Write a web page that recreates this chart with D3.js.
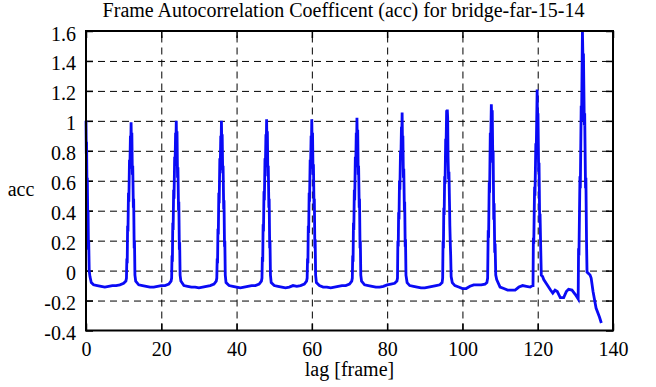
<!DOCTYPE html>
<html>
<head>
<meta charset="utf-8">
<script src="https://cdn.jsdelivr.net/npm/d3@7"></script>
<style>
  body { margin: 0; background: #fff; }
</style>
</head>
<body>
<script>
// axis ticks
const xTicks = [0, 20, 40, 60, 80, 100, 120, 140];
const yTicks = [-0.4, -0.2, 0, 0.2, 0.4, 0.6, 0.8, 1, 1.2, 1.4, 1.6];

const title = "Frame Autocorrelation Coefficent (acc) for bridge-far-15-14";
const xLabel = "lag [frame]";
const yLabel = "acc";

// [lag, acc], one peak / one trough per line
const acc = [
  [0,1.00],[0.08,0.78],[0.15,0.86],[0.27,0.55],[0.35,0.62],[0.47,0.34],[0.55,0.40],[0.65,0.14],[0.72,0.20],[0.85,0.00],[1.05,-0.04],[1.4,-0.08],
  [2,-0.095],[3,-0.10],[4,-0.105],[5,-0.11],[6,-0.105],[7,-0.10],[8,-0.10],[9,-0.095],[10,-0.085],[10.6,-0.07],
  [10.75,-0.05],[10.85,0.08],[10.95,0.05],[11.05,0.30],[11.15,0.26],[11.28,0.52],[11.38,0.46],[11.55,0.74],[11.65,0.68],[11.8,0.90],[11.9,0.84],[11.98,0.99],[12.08,0.82],[12.18,0.92],[12.32,0.64],[12.42,0.70],[12.58,0.42],[12.66,0.48],[12.8,0.15],[12.88,0.20],[13.0,-0.03],[13.2,-0.07],
  [14,-0.095],[15,-0.10],[16,-0.105],[17,-0.11],[18,-0.11],[19,-0.105],[20,-0.10],[21,-0.10],[22,-0.09],[22.6,-0.07],
  [22.75,-0.05],[22.85,0.10],[22.95,0.06],[23.05,0.32],[23.15,0.27],[23.28,0.54],[23.38,0.48],[23.55,0.76],[23.65,0.70],[23.8,0.92],[23.9,0.85],[23.98,1.00],[24.08,0.80],[24.18,0.93],[24.32,0.62],[24.42,0.69],[24.58,0.40],[24.66,0.46],[24.8,0.14],[24.88,0.19],[25.0,-0.03],[25.2,-0.07],
  [26,-0.10],[27,-0.105],[28,-0.11],[29,-0.11],[30,-0.115],[31,-0.11],[32,-0.105],[33,-0.10],[34,-0.09],[34.6,-0.07],
  [34.75,-0.05],[34.85,0.08],[34.95,0.05],[35.05,0.28],[35.15,0.24],[35.28,0.52],[35.38,0.45],[35.55,0.75],[35.65,0.67],[35.8,0.90],[35.9,0.83],[35.98,1.00],[36.08,0.83],[36.18,0.91],[36.32,0.65],[36.42,0.70],[36.58,0.41],[36.66,0.47],[36.8,0.16],[36.88,0.20],[37.0,-0.03],[37.2,-0.08],
  [38,-0.10],[39,-0.105],[40,-0.11],[41,-0.115],[42,-0.11],[43,-0.105],[44,-0.10],[45,-0.10],[46,-0.09],[46.6,-0.07],
  [46.75,-0.05],[46.85,0.09],[46.95,0.06],[47.05,0.31],[47.15,0.26],[47.28,0.53],[47.38,0.47],[47.55,0.75],[47.65,0.69],[47.8,0.91],[47.9,0.85],[47.98,1.01],[48.08,0.82],[48.18,0.93],[48.32,0.63],[48.42,0.70],[48.58,0.42],[48.66,0.48],[48.8,0.15],[48.88,0.20],[49.0,-0.03],[49.2,-0.08],
  [50,-0.10],[51,-0.105],[52,-0.11],[53,-0.115],[54,-0.11],[55,-0.10],[56,-0.105],[57,-0.10],[58,-0.09],[58.6,-0.07],
  [58.75,-0.05],[58.85,0.08],[58.95,0.05],[59.05,0.30],[59.15,0.25],[59.28,0.52],[59.38,0.46],[59.55,0.74],[59.65,0.68],[59.8,0.90],[59.9,0.84],[59.98,1.01],[60.08,0.82],[60.18,0.92],[60.32,0.64],[60.42,0.71],[60.58,0.42],[60.66,0.48],[60.8,0.15],[60.88,0.21],[61.0,-0.03],[61.2,-0.08],
  [62,-0.10],[63,-0.11],[64,-0.11],[65,-0.115],[66,-0.11],[67,-0.105],[68,-0.10],[69,-0.10],[70,-0.09],[70.6,-0.07],
  [70.75,-0.05],[70.85,0.10],[70.95,0.06],[71.05,0.32],[71.15,0.27],[71.28,0.54],[71.38,0.47],[71.55,0.76],[71.65,0.69],[71.8,0.92],[71.9,0.85],[71.98,1.02],[72.08,0.83],[72.18,0.94],[72.32,0.64],[72.42,0.70],[72.58,0.42],[72.66,0.48],[72.8,0.15],[72.88,0.20],[73.0,-0.03],[73.2,-0.07],
  [74,-0.095],[75,-0.10],[76,-0.105],[77,-0.11],[78,-0.11],[79,-0.105],[80,-0.095],[81,-0.09],[82,-0.085],[82.6,-0.07],
  [82.75,-0.05],[82.85,0.20],[82.95,0.16],[83.05,0.39],[83.15,0.34],[83.28,0.60],[83.38,0.54],[83.55,0.80],[83.65,0.74],[83.8,0.96],[83.9,0.90],[83.98,1.055],[84.08,0.84],[84.18,0.90],[84.32,0.62],[84.42,0.68],[84.58,0.40],[84.66,0.46],[84.8,0.16],[84.88,0.21],[85.0,-0.03],[85.3,-0.08],
  [86,-0.10],[87,-0.105],[88,-0.11],[89,-0.115],[90,-0.115],[91,-0.11],[92,-0.105],[93,-0.10],[94,-0.095],[94.6,-0.08],
  [94.75,-0.05],[94.85,0.20],[94.95,0.15],[95.05,0.42],[95.15,0.37],[95.28,0.63],[95.38,0.58],[95.55,0.88],[95.65,0.82],[95.8,1.07],[95.9,0.98],[95.98,1.075],[96.08,1.02],[96.18,0.76],[96.32,0.61],[96.42,0.66],[96.58,0.43],[96.66,0.30],[96.8,0.16],[96.88,0.10],[97.0,-0.04],[97.3,-0.08],
  [98,-0.10],[99,-0.11],[100,-0.12],[101,-0.12],[102,-0.105],[103,-0.095],[104,-0.095],[105,-0.095],[106,-0.09],[106.5,-0.08],
  [106.7,-0.05],[106.85,0.27],[106.95,0.22],[107.12,0.59],[107.22,0.52],[107.4,0.92],[107.5,0.84],[107.68,1.11],[107.8,0.98],[107.92,1.07],[108.08,0.72],[108.16,0.80],[108.32,0.34],[108.42,0.45],[108.58,0.12],[108.68,0.18],[108.85,-0.03],[109.1,-0.06],
  [110,-0.11],[111,-0.12],[112,-0.13],[113,-0.13],[114,-0.13],[115,-0.11],[116,-0.10],[117,-0.105],[118,-0.11],[118.6,-0.10],
  [118.75,-0.10],[118.85,0.22],[118.95,0.18],[119.17,0.56],[119.27,0.50],[119.5,0.85],[119.6,0.78],[119.85,1.21],[119.97,0.96],[120.07,1.05],[120.25,0.66],[120.35,0.72],[120.52,0.32],[120.62,0.38],[120.78,0.17],[120.95,-0.03],
  [121.3,-0.04],[121.6,-0.06],[122.5,-0.095],[123.4,-0.13],[124.0,-0.15],[124.6,-0.13],[125.2,-0.14],[126.0,-0.18],[126.9,-0.18],[127.6,-0.14],[128.2,-0.125],[129.1,-0.13],[130.0,-0.16],[130.75,-0.19],
  [130.85,0.15],[130.95,0.10],[131.22,0.63],[131.32,0.55],[131.55,1.10],[131.65,1.00],[131.88,1.60],[132.05,1.37],[132.15,1.45],[132.38,0.97],[132.48,1.05],[132.7,0.55],[132.8,0.62],[132.97,0.19],[133.1,-0.01],
  [133.9,-0.03],[134.2,-0.05],[134.7,-0.14],[135.5,-0.25],[136.4,-0.31],[136.9,-0.35]
];

const width = 656, height = 387;
const margin = { top: 31, right: 43, bottom: 56.5, left: 86 };
const w = width - margin.left - margin.right;
const h = height - margin.top - margin.bottom;
const font = '"Liberation Serif", "DejaVu Serif", serif';

const svg = d3.select("body").append("svg")
  .attr("width", width)
  .attr("height", height)
  .style("font-family", font);

const g = svg.append("g")
  .attr("transform", "translate(" + margin.left + "," + margin.top + ")");

const x = d3.scaleLinear().domain([0, 140]).range([0, w]);
const y = d3.scaleLinear().domain([-0.4, 1.6]).range([h, 0]);

// dashed grid
g.append("g")
  .attr("class", "grid")
  .attr("transform", "translate(0," + h + ")")
  .call(d3.axisBottom(x).tickValues(xTicks.slice(1, -1)).tickSize(-h).tickFormat(""));
g.append("g")
  .attr("class", "grid")
  .call(d3.axisLeft(y).tickValues(yTicks.slice(1, -1)).tickSize(-w).tickFormat(""));
g.selectAll(".grid .domain").remove();
g.selectAll(".grid line")
  .attr("stroke", "#000")
  .attr("stroke-width", 1)
  .attr("stroke-dasharray", "7,5");

// inner tick marks on all four sides
const tickLen = 7;
g.append("g").attr("class", "tk").attr("transform", "translate(0," + h + ")")
  .call(d3.axisBottom(x).tickValues(xTicks).tickSize(-tickLen).tickFormat(""));
g.append("g").attr("class", "tk")
  .call(d3.axisTop(x).tickValues(xTicks).tickSize(-tickLen).tickFormat(""));
g.append("g").attr("class", "tk")
  .call(d3.axisLeft(y).tickValues(yTicks).tickSize(-tickLen).tickFormat(""));
g.append("g").attr("class", "tk").attr("transform", "translate(" + w + ",0)")
  .call(d3.axisRight(y).tickValues(yTicks).tickSize(-tickLen).tickFormat(""));
g.selectAll(".tk .domain").remove();
g.selectAll(".tk line").attr("stroke", "#000").attr("stroke-width", 1.5);

// tick labels
const xl = g.append("g").attr("transform", "translate(0," + h + ")")
  .call(d3.axisBottom(x).tickValues(xTicks).tickSize(0).tickFormat(d3.format("d")));
xl.select(".domain").remove();
xl.attr("font-family", font).attr("font-size", 20);
xl.selectAll("text")
  .attr("y", 25.5).attr("dy", null)
  .style("font-family", font).style("font-size", "20px").style("fill", "#000");

const yl = g.append("g")
  .call(d3.axisLeft(y).tickValues(yTicks).tickSize(0).tickFormat(d => String(+d.toFixed(1))));
yl.select(".domain").remove();
yl.attr("font-family", font).attr("font-size", 20);
yl.selectAll("text")
  .attr("x", -10).attr("dy", "9px")
  .style("font-family", font).style("font-size", "20px").style("fill", "#000");

// the curve
const line = d3.line()
  .x(d => x(d[0]))
  .y(d => y(d[1]));

g.append("path")
  .datum(acc)
  .attr("fill", "none")
  .attr("stroke", "#0a0af5")
  .attr("stroke-width", 2.8)
  .attr("d", line);

// frame
g.append("rect")
  .attr("width", w)
  .attr("height", h)
  .attr("fill", "none")
  .attr("stroke", "#000")
  .attr("stroke-width", 2);

// texts
svg.append("text")
  .attr("x", 343.5)
  .attr("y", 17)
  .attr("text-anchor", "middle")
  .style("font-size", "20px")
  .text(title);

svg.append("text")
  .attr("x", margin.left + w / 2)
  .attr("y", 376)
  .attr("text-anchor", "middle")
  .style("font-size", "20px")
  .text(xLabel);

svg.append("text")
  .attr("x", 21)
  .attr("y", 196)
  .attr("text-anchor", "middle")
  .style("font-size", "20px")
  .text(yLabel);
</script>
</body>
</html>
